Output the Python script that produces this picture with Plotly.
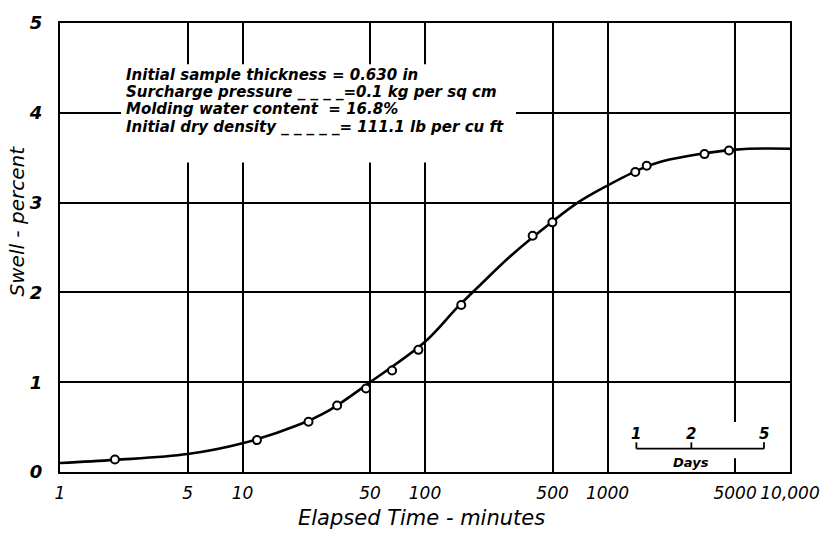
import math
import plotly.graph_objects as go

# Observed swell readings (open circles)
minutes_obs = [2, 12, 23, 33, 47.5, 66, 92, 158, 389, 499, 1420, 1640, 3400, 4630]
swell_obs = [0.14, 0.355, 0.56, 0.74, 0.93, 1.13, 1.36, 1.86, 2.63, 2.78, 3.34, 3.41, 3.54, 3.58]

# Smooth swell curve read along its length
minutes_fit = [1, 2, 5, 10, 20, 30, 50, 100, 150, 200, 300, 500, 700, 1000, 1500, 2000, 5000, 10000]
swell_fit = [0.10, 0.135, 0.20, 0.32, 0.52, 0.69, 1.00, 1.45, 1.83, 2.08, 2.42, 2.79, 3.01, 3.19, 3.37, 3.46, 3.59, 3.60]

x_tickvals = [1, 5, 10, 50, 100, 500, 1000, 5000, 10000]
x_ticktext = ["1", "5", "10", "50", "100", "500", "1000", "5000", "10,000"]
y_tickvals = [0, 1, 2, 3, 4, 5]

# Days scale inset
days = [1, 2, 5]
minutes_per_day = 1440
days_scale_y = 0.26

notes = [
    "Initial sample thickness = 0.630 in",
    "Surcharge pressure _ _ _ _=0.1 kg per sq cm",
    "Molding water content  = 16.8%",
    "Initial dry density _ _ _ _ _= 111.1 lb per cu ft",
]

FONT = "DejaVu Sans"
W, H = 832, 533
ML, MR, MT, MB = 60, 42, 15, 61
PW, PH = W - ML - MR, H - MT - MB
X_DECADES, Y_MAX = 4.0, 5.0


def px_to_paper_y(py):
    return (H - MB - py) / PH


def px_to_paper_x(px):
    return (px - ML) / PW


def px_to_minutes(px):
    return 10 ** (px_to_paper_x(px) * X_DECADES)


def px_to_swell(py):
    return px_to_paper_y(py) * Y_MAX


def white_panel(px0, px1, py0, py1):
    xa, xb = px_to_minutes(px0), px_to_minutes(px1)
    ya, yb = px_to_swell(py1), px_to_swell(py0)
    return go.Scatter(
        x=[xa, xb, xb, xa, xa], y=[ya, ya, yb, yb, ya], mode="lines",
        fill="toself", fillcolor="white", line=dict(width=0, color="white"),
        hoverinfo="skip", showlegend=False,
    )


fig = go.Figure()

# white panels that hide the grid behind the notes and the day scale
fig.add_trace(white_panel(121, 516, 57, 157))
fig.add_trace(white_panel(626, 772, 421, 458))

fig.add_trace(go.Scatter(
    x=minutes_fit, y=swell_fit, mode="lines",
    line=dict(color="black", width=2.6, shape="spline", smoothing=1.0),
    hoverinfo="skip", showlegend=False,
))
fig.add_trace(go.Scatter(
    x=minutes_obs, y=swell_obs, mode="markers",
    marker=dict(symbol="circle", size=8, color="white", line=dict(color="black", width=2)),
    showlegend=False,
))

# Days scale: baseline and ticks
day_minutes = [d * minutes_per_day for d in days]
fig.add_trace(go.Scatter(
    x=[day_minutes[0], day_minutes[-1]], y=[days_scale_y, days_scale_y], mode="lines",
    line=dict(color="black", width=1.8), hoverinfo="skip", showlegend=False,
))
for dm in day_minutes:
    fig.add_trace(go.Scatter(
        x=[dm, dm], y=[days_scale_y, days_scale_y + 0.07], mode="lines",
        line=dict(color="black", width=1.8), hoverinfo="skip", showlegend=False,
    ))

annotations = []
line_py = [68, 85.5, 103, 120.5]
for txt, py in zip(notes, line_py):
    annotations.append(dict(
        text=txt, xref="paper", yref="paper", x=px_to_paper_x(124), y=px_to_paper_y(py),
        xanchor="left", yanchor="middle", showarrow=False,
        font=dict(family=FONT, size=15, color="black", style="italic", weight="bold"),
    ))

for d, dm in zip(days, day_minutes):
    annotations.append(dict(
        text=str(d), xref="x", yref="paper", x=math.log10(dm), y=px_to_paper_y(433),
        xanchor="center", yanchor="middle", showarrow=False,
        font=dict(family=FONT, size=15, color="black", style="italic", weight="bold"),
    ))
annotations.append(dict(
    text="Days", xref="x", yref="paper", x=math.log10(2 * minutes_per_day), y=px_to_paper_y(462),
    xanchor="center", yanchor="middle", showarrow=False,
    font=dict(family=FONT, size=13, color="black", style="italic", weight="bold"),
))

# Axis titles
annotations.append(dict(
    text="Swell - percent", xref="paper", yref="paper", x=px_to_paper_x(17), y=px_to_paper_y(217),
    xanchor="center", yanchor="middle", textangle=-90, showarrow=False,
    font=dict(family=FONT, size=20, color="black", style="italic"),
))
annotations.append(dict(
    text="Elapsed Time - minutes", xref="paper", yref="paper", x=px_to_paper_x(421), y=px_to_paper_y(519),
    xanchor="center", yanchor="middle", showarrow=False,
    font=dict(family=FONT, size=21, color="black", style="italic"),
))

fig.update_layout(
    width=W, height=H,
    margin=dict(l=ML, r=MR, t=MT, b=MB),
    paper_bgcolor="white", plot_bgcolor="white",
    annotations=annotations,
    showlegend=False,
    xaxis=dict(
        type="log", range=[0, X_DECADES], tickvals=x_tickvals, ticktext=x_ticktext,
        showgrid=True, gridcolor="black", gridwidth=1.6,
        showline=True, linecolor="black", linewidth=2.4, mirror=True,
        ticks="", ticklabelstandoff=4, zeroline=False,
        tickfont=dict(family=FONT, size=17, color="black", style="italic"),
    ),
    yaxis=dict(
        range=[0, Y_MAX], tickvals=y_tickvals,
        showgrid=True, gridcolor="black", gridwidth=1.6,
        showline=True, linecolor="black", linewidth=2.4, mirror=True,
        ticks="", ticklabelstandoff=12, zeroline=False,
        tickfont=dict(family=FONT, size=18, color="black", style="italic", weight="bold"),
    ),
)

fig.write_html("out.html")
